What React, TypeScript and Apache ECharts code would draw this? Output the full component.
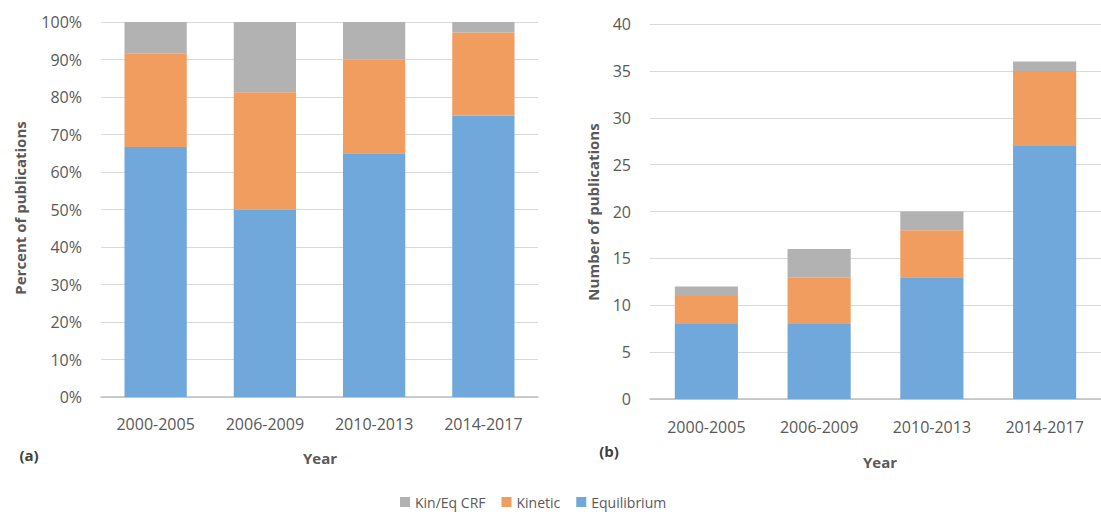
import React, { useEffect, useRef } from "react";
import * as echarts from "echarts";

// Publications per period, split by model type
const periods = ["2000-2005", "2006-2009", "2010-2013", "2014-2017"];
const equilibrium = [8, 8, 13, 27];
const kinetic = [3, 5, 5, 8];
const kinEqCrf = [1, 3, 2, 1];

const percentTicks = [0, 10, 20, 30, 40, 50, 60, 70, 80, 90, 100];
const countTicks = [0, 5, 10, 15, 20, 25, 30, 35, 40];

const COLORS = {
  crf: "#B2B2B2",
  kin: "#F19D60",
  eq: "#70A8DC",
};

const FONT = "'Open Sans', 'DejaVu Sans', sans-serif";
const TEXT = "#595959";

const totals = periods.map((_, i) => equilibrium[i] + kinetic[i] + kinEqCrf[i]);
const toPercent = (arr: number[]) => arr.map((v, i) => (v / totals[i]) * 100);

export default function App() {
  const ref = useRef<HTMLDivElement>(null);

  useEffect(() => {
    document.body.style.margin = "0";
    if (!ref.current) return;
    const chart = echarts.init(ref.current, undefined, { renderer: "svg" });

    const xAxisBase = (gridIndex: number, margin: number) => ({
      type: "category" as const,
      gridIndex,
      data: periods,
      axisTick: { show: false },
      axisLine: { lineStyle: { color: "#BFBFBF", width: 1.5 } },
      axisLabel: { color: TEXT, fontSize: 16, fontFamily: FONT, margin },
    });

    const yAxisBase = (gridIndex: number, ticks: number[], fmt: (v: number) => string) => ({
      type: "value" as const,
      gridIndex,
      min: ticks[0],
      max: ticks[ticks.length - 1],
      interval: ticks[1] - ticks[0],
      axisLine: { show: false },
      axisTick: { show: false },
      axisLabel: { color: TEXT, fontSize: 16, fontFamily: FONT, margin: 19, formatter: fmt },
      splitLine: { lineStyle: { color: "#D9D9D9", width: 1 } },
    });

    const bar = (name: string, data: number[], color: string, idx: number, stack: string, gap: string) => ({
      type: "bar" as const,
      name,
      data,
      stack,
      xAxisIndex: idx,
      yAxisIndex: idx,
      barCategoryGap: gap,
      itemStyle: { color },
    });

    chart.setOption({
      animation: false,
      grid: [
        { left: 101, top: 22, width: 437, height: 375 },
        { left: 650, top: 24, width: 462, height: 375 },
      ],
      xAxis: [xAxisBase(0, 19), xAxisBase(1, 20)],
      yAxis: [
        yAxisBase(0, percentTicks, (v) => `${v}%`),
        yAxisBase(1, countTicks, (v) => `${v}`),
      ],
      legend: {
        data: ["Kin/Eq CRF", "Kinetic", "Equilibrium"],
        left: 395,
        top: 490,
        itemWidth: 10,
        itemHeight: 10,
        itemGap: 16,
        icon: "rect",
        textStyle: { color: TEXT, fontSize: 14, fontFamily: FONT },
      },
      series: [
        bar("Equilibrium", toPercent(equilibrium), COLORS.eq, 0, "a", "43%"),
        bar("Kinetic", toPercent(kinetic), COLORS.kin, 0, "a", "43%"),
        bar("Kin/Eq CRF", toPercent(kinEqCrf), COLORS.crf, 0, "a", "43%"),
        bar("Equilibrium", equilibrium, COLORS.eq, 1, "b", "44%"),
        bar("Kinetic", kinetic, COLORS.kin, 1, "b", "44%"),
        bar("Kin/Eq CRF", kinEqCrf, COLORS.crf, 1, "b", "44%"),
      ],
      graphic: [
        {
          type: "text",
          x: 20,
          y: 208,
          rotation: Math.PI / 2,
          style: {
            text: "Percent of publications",
            fill: TEXT,
            font: `bold 15px ${FONT}`,
            textAlign: "center",
            textVerticalAlign: "middle",
          },
        },
        {
          type: "text",
          x: 593,
          y: 212,
          rotation: Math.PI / 2,
          style: {
            text: "Number of publications",
            fill: TEXT,
            font: `bold 15px ${FONT}`,
            textAlign: "center",
            textVerticalAlign: "middle",
          },
        },
        {
          type: "text",
          x: 320,
          y: 458,
          style: {
            text: "Year",
            fill: TEXT,
            font: `bold 15px ${FONT}`,
            textAlign: "center",
            textVerticalAlign: "middle",
          },
        },
        {
          type: "text",
          x: 880,
          y: 462,
          style: {
            text: "Year",
            fill: TEXT,
            font: `bold 15px ${FONT}`,
            textAlign: "center",
            textVerticalAlign: "middle",
          },
        },
        {
          type: "text",
          x: 29,
          y: 455,
          style: {
            text: "(a)",
            fill: "#404040",
            font: `bold 15px ${FONT}`,
            textAlign: "center",
            textVerticalAlign: "middle",
          },
        },
        {
          type: "text",
          x: 609,
          y: 451,
          style: {
            text: "(b)",
            fill: "#404040",
            font: `bold 15px ${FONT}`,
            textAlign: "center",
            textVerticalAlign: "middle",
          },
        },
      ],
    });

    return () => chart.dispose();
  }, []);

  return <div ref={ref} style={{ width: 1101, height: 515 }} />;
}
